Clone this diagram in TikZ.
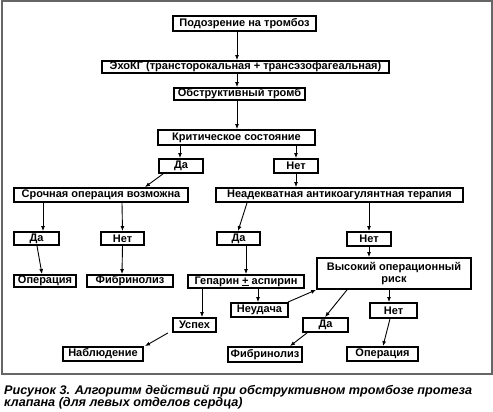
\documentclass[tikz,border=0pt]{standalone}
\usepackage{fontspec}
\setmainfont{Liberation Sans}
\usetikzlibrary{arrows.meta}
\newsavebox\capboxA
\newsavebox\capboxB
\tikzset{
  bx/.style={draw, line width=1.8pt, fill=white, inner sep=0pt, align=center,
    font=\bfseries\fontsize{11}{12}\selectfont},
  arr/.style={line width=0.9pt, -{Latex[length=5pt,width=4pt]}},
  captext/.style={anchor=base west, inner sep=0pt}
}
\begin{document}%
\sbox\capboxA{\bfseries\itshape\fontsize{12.5}{14}\selectfont Рисунок 3. Алгоритм действий при обструктивном тромбозе протеза}%
\sbox\capboxB{\bfseries\itshape\fontsize{12.5}{14}\selectfont клапана (для левых отделов сердца)}%
\pgfmathsetmacro\capsx{468/\wd\capboxA}%
\begin{tikzpicture}[x=1pt,y=-1pt]
\useasboundingbox (0,0) rectangle (493,412);
\draw[gray!80!black, line width=1.1pt] (2,1) rectangle (492,374);
% nodes
\node[bx, minimum width=143, minimum height=15] (p1) at (244.5,23.5) {Подозрение на тромбоз};
\node[bx, minimum width=287, minimum height=12] (p2) at (245.5,67) {ЭхоКГ (трансторокальная + трансэзофагеальная)};
\node[bx, minimum width=131, minimum height=12] (p3) at (239.5,94) {Обструктивный тромб};
\node[bx, minimum width=157, minimum height=15] (p4) at (236.5,137.5) {Критическое состояние};
\node[bx, minimum width=44, minimum height=14] (da1) at (181,166) {Да};
\node[bx, minimum width=44, minimum height=14] (net1) at (296,166) {Нет};
\node[bx, minimum width=174, minimum height=14] (sroch) at (101,195) {Срочная операция возможна};
\node[bx, minimum width=247, minimum height=14] (nead) at (339.5,195) {Неадекватная антикоагулянтная терапия};
\node[bx, minimum width=45, minimum height=13] (da2) at (36.5,238.5) {Да};
\node[bx, minimum width=43, minimum height=13] (net2) at (122.5,238.5) {Нет};
\node[bx, minimum width=43, minimum height=13] (da3) at (238.5,238.5) {Да};
\node[bx, minimum width=44, minimum height=14] (net3) at (369,239) {Нет};
\node[bx, minimum width=154, minimum height=31] (vys) at (394,273.5) {Высокий операционный\\риск};
\node[bx, minimum width=62, minimum height=12] (oper1) at (45,281) {Операция};
\node[bx, minimum width=86, minimum height=12] (fib1) at (130,281) {Фибринолиз};
\node[bx, minimum width=116, minimum height=13] (gep) at (246,281.5) {Гепарин \underline{+} аспирин};
\node[bx, minimum width=57, minimum height=14] (neud) at (259.5,310) {Неудача};
\node[bx, minimum width=43, minimum height=14] (usp) at (194.5,325) {Успех};
\node[bx, minimum width=80, minimum height=14] (nabl) at (103,354) {Наблюдение};
\node[bx, minimum width=45, minimum height=14] (da4) at (325.5,325) {Да};
\node[bx, minimum width=47, minimum height=15] (net4) at (393.5,310.5) {Нет};
\node[bx, minimum width=74, minimum height=15] (fib2) at (265,354.5) {Фибринолиз};
\node[bx, minimum width=71, minimum height=14] (oper2) at (382.5,354) {Операция};
% arrows
\draw[arr] ([xshift=-7.5]p1.south) -- ([xshift=-8.5]p2.north);
\draw[arr] ([xshift=-8.5]p2.south) -- ([xshift=-2.5]p3.north);
\draw[arr] ([xshift=-2.5]p3.south) -- ([xshift=0.5]p4.north);
\draw[arr] ([xshift=-56.5]p4.south) -- ([xshift=-1]da1.north);
\draw[arr] ([xshift=59.5]p4.south) -- (net1.north);
\draw[arr] ([xshift=-18]da1.south) -- ([xshift=44]sroch.north);
\draw[arr] (net1.south) -- ([xshift=-43.5]nead.north);
\draw[arr] ([xshift=-58]sroch.south) -- ([xshift=6.5]da2.north);
\draw[arr] ([xshift=21]sroch.south) -- (net2.north);
\draw[arr] ([xshift=-92.5]nead.south) -- ([xshift=-0.5]da3.north);
\draw[arr] ([xshift=29.5]nead.south) -- (net3.north);
\draw[arr] ([xshift=0.5]da2.south) -- ([xshift=-3]oper1.north);
\draw[arr] (net2.south) -- ([xshift=-8]fib1.north);
\draw[arr] ([xshift=7.5]da3.south) -- (gep.north);
\draw[arr] (net3.south) -- ([xshift=-25]vys.north);
\draw[arr] ([xshift=12]gep.south) -- ([xshift=-1.5]neud.north);
\draw[arr] ([xshift=-44]gep.south) -- ([xshift=7.5]usp.north);
\draw[arr] ([xshift=-26.5]usp.south) -- ([xshift=42]nabl.north);
\draw[arr] ([xshift=-1]neud.north east) -- (vys.south west);
\draw[arr] ([xshift=-47]vys.south) -- ([xshift=-0.5]da4.north);
\draw[arr] ([xshift=-5]vys.south) -- ([xshift=-4.5]net4.north);
\draw[arr] ([xshift=-18.5]da4.south) -- ([xshift=25]fib2.north);
\draw[arr] ([xshift=-3.5]net4.south) -- ([xshift=0.5]oper2.north);
% caption
\node[captext] (c1) at (4,394) {\scalebox{\capsx}[1]{\usebox\capboxA}};
\node[captext] (c2) at (4,406.5) {\scalebox{\capsx}[1]{\usebox\capboxB}};
\end{tikzpicture}%
\end{document}
